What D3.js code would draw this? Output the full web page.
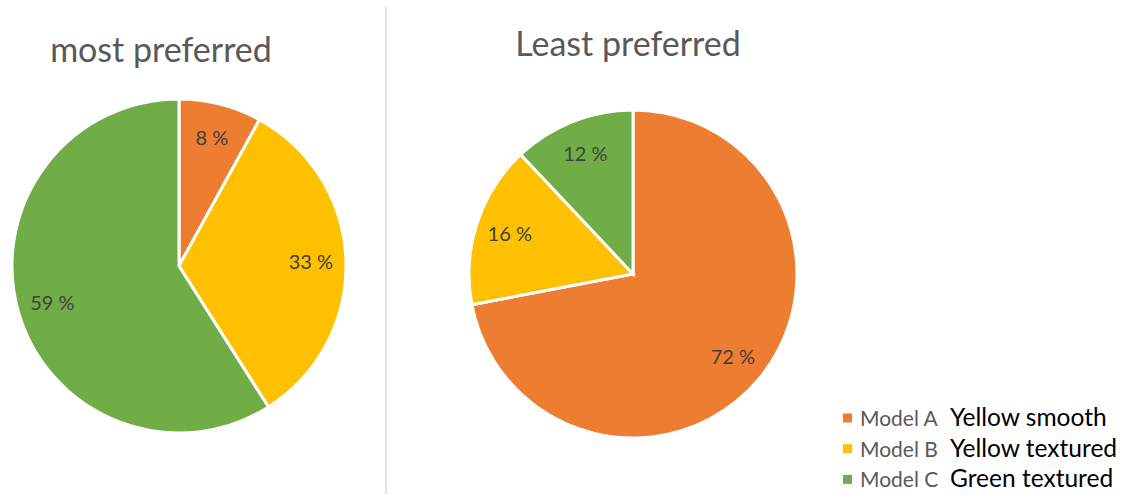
<!DOCTYPE html>
<html>
<head>
<meta charset="utf-8">
<script src="https://cdn.jsdelivr.net/npm/d3@7"></script>
<style>
  html, body { margin: 0; padding: 0; background: #fff; }
  svg { display: block; }
</style>
</head>
<body>
<svg id="chart" width="1123" height="495"></svg>
<script>
// Survey results: share of respondents per model
const models = ["Model A", "Model B", "Model C"];
const descriptions = ["Yellow smooth", "Yellow textured", "Green textured"];
const colors = ["#ED7D31", "#FFC000", "#70AD47"];
const mostPreferred = [8, 33, 59];
const leastPreferred = [72, 16, 12];
const titles = ["most preferred", "Least preferred"];

const svg = d3.select("#chart");
const font = "Lato, 'Open Sans', sans-serif";

const color = d3.scaleOrdinal().domain(models).range(colors);

const pie = d3.pie().sort(null).value(d => d.value);

function drawPie(values, title, cx, cy, r, titleX, titleY) {
  const data = models.map((m, i) => ({ model: m, value: values[i] }));
  const arcs = pie(data);
  const arc = d3.arc().innerRadius(0).outerRadius(r);
  const labelArc = d3.arc().innerRadius(r * 0.79).outerRadius(r * 0.79);

  const g = svg.append("g").attr("transform", `translate(${cx},${cy})`);
  g.selectAll("path.slice")
    .data(arcs)
    .join("path")
    .attr("class", "slice")
    .attr("d", arc)
    .attr("fill", d => color(d.data.model))
    .attr("stroke", "#fff")
    .attr("stroke-width", 3)
    .attr("stroke-linejoin", "miter");

  g.selectAll("text.value")
    .data(arcs)
    .join("text")
    .attr("class", "value")
    .attr("transform", d => `translate(${labelArc.centroid(d)})`)
    .attr("text-anchor", "middle")
    .attr("dy", "0.36em")
    .attr("font-family", font)
    .attr("font-size", 20)
    .attr("fill", "#404040")
    .text(d => `${d.data.value} %`);

  svg.append("text")
    .attr("x", titleX)
    .attr("y", titleY)
    .attr("text-anchor", "middle")
    .attr("font-family", font)
    .attr("font-size", 34)
    .attr("fill", "#595959")
    .text(title);
}

drawPie(mostPreferred, titles[0], 179, 266, 167, 161, 62);
drawPie(leastPreferred, titles[1], 633, 274, 164, 628, 56);

// divider between the two pies
svg.append("line")
  .attr("x1", 386).attr("x2", 386)
  .attr("y1", 7).attr("y2", 494)
  .attr("stroke", "#D9D9D9")
  .attr("stroke-width", 1.5);

// legend
const legend = svg.append("g").attr("transform", "translate(843,426)");
const rows = legend.selectAll("g.row")
  .data(models)
  .join("g")
  .attr("class", "row")
  .attr("transform", (d, i) => `translate(0,${i * 30.7})`);

rows.append("rect")
  .attr("x", 0).attr("y", -12.5)
  .attr("width", 9).attr("height", 9)
  .attr("fill", d => color(d));

rows.append("text")
  .attr("x", 17)
  .attr("font-family", font)
  .attr("font-size", 21)
  .attr("fill", "#595959")
  .text(d => d);

rows.append("text")
  .attr("x", 107)
  .attr("font-family", font)
  .attr("font-size", 24.5)
  .attr("fill", "#000")
  .text((d, i) => descriptions[i]);
</script>
</body>
</html>
